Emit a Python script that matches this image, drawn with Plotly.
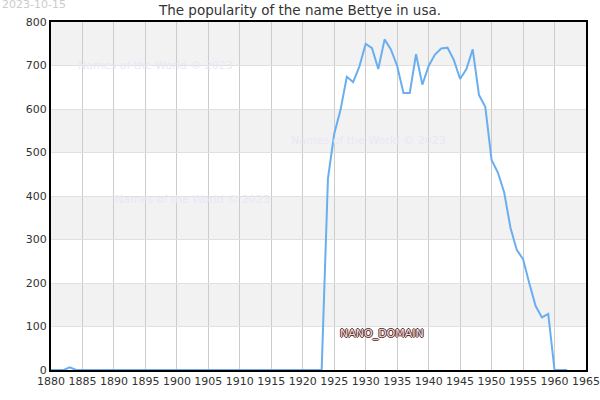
import plotly.graph_objects as go

years = list(range(1880, 1963))
counts = [0, 0, 0, 6, 0] + [0] * 39 + [
    440, 543, 598, 674, 662, 698, 750, 740, 692, 760,
    737, 699, 637, 637, 726, 656, 699, 725, 739, 741,
    713, 669, 692, 737, 632, 605, 483, 454, 408, 327,
    276, 255, 199, 147, 121, 129, 0, 0, 0]
# years 1880..1923 (44 values) then 1924..1962 (39 values)
assert len(counts) == len(years)

title = "The popularity of the name Bettye in usa."
date_label = "2023-10-15"
watermark = "Names of the World © 2023"
x_ticks = list(range(1880, 1966, 5))
y_ticks = list(range(0, 801, 100))

fig = go.Figure()
fig.add_trace(go.Scatter(x=years, y=counts, mode="lines",
                         line=dict(color="#6aaef0", width=2), hoverinfo="skip"))

# alternating horizontal bands
for lo, hi in zip(y_ticks[1::2], y_ticks[2::2]):
    fig.add_shape(type="rect", xref="paper", yref="y", x0=0, x1=1, y0=lo, y1=hi,
                  fillcolor="#f2f2f2", line_width=0, layer="below")

fig.update_layout(
    width=600, height=400,
    margin=dict(l=51, r=14, t=22, b=30),
    paper_bgcolor="white", plot_bgcolor="white",
    showlegend=False,
    font=dict(family="DejaVu Sans", size=11, color="#333"),
    title=dict(text=title, x=0.5, xanchor="center", y=0.975, yanchor="middle",
               font=dict(size=13.5, color="#333")),
)
fig.update_xaxes(range=[1880, 1965], tickvals=x_ticks, showgrid=True, gridcolor="#cccccc",
                 gridwidth=1, showline=True, linecolor="black", linewidth=2, mirror=True,
                 ticks="", zeroline=False, automargin=False,
                 tickfont=dict(size=11, color="#333"))
fig.update_yaxes(range=[0, 800], tickvals=y_ticks, showgrid=True, gridcolor="#e0e0e0",
                 gridwidth=1, showline=True, linecolor="black", linewidth=2, mirror=True,
                 ticks="", zeroline=False, automargin=False,
                 tickfont=dict(size=11, color="#333"))

fig.add_annotation(text=date_label, xref="paper", yref="paper", x=-51/535, y=1 + 18/348,
                   xanchor="left", yanchor="middle", showarrow=False,
                   font=dict(size=11, color="#cccccc"))

for xp, yp in [(155, 65), (368, 140), (192, 199)]:
    fig.add_annotation(text=watermark, xref="paper", yref="paper",
                       x=(xp - 51) / 535, y=(370 - yp) / 348,
                       xanchor="center", yanchor="middle", showarrow=False,
                       font=dict(size=11, color="#e8e8f6"))

outline = "#5a2a2a"
fig.add_annotation(text="NANO_DOMAIN", xref="paper", yref="paper",
                   x=(382 - 51) / 535, y=(370 - 333) / 348,
                   xanchor="center", yanchor="middle", showarrow=False,
                   font=dict(size=11, color="#f4e0e0",
                             shadow=f"1px 0 0 {outline}, -1px 0 0 {outline}, 0 1px 0 {outline}, 0 -1px 0 {outline}"))

fig.write_html("out.html")
